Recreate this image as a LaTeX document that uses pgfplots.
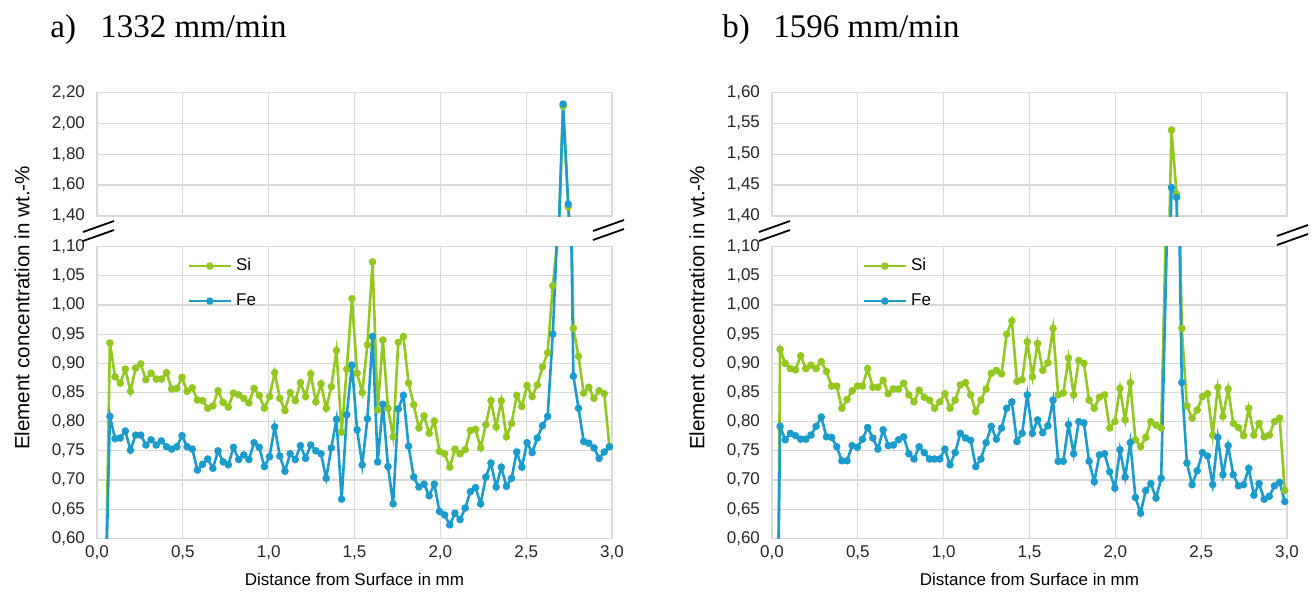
\documentclass[border=0pt]{standalone}
\usepackage{fontspec}
\setmainfont{Liberation Sans}
\newfontfamily\titlefont{Liberation Serif}
\usepackage{pgfplots}
\pgfplotsset{compat=1.18}
\usepackage{pgfplotstable}

\definecolor{siGreen}{RGB}{146,200,32}
\definecolor{feBlue}{RGB}{28,156,204}
\definecolor{gridGray}{RGB}{217,217,217}

% a) 1332 mm/min
\pgfplotstableread{
x     si    fe
0.050 0.500 0.500
0.075 0.935 0.809
0.105 0.877 0.771
0.135 0.866 0.772
0.165 0.890 0.784
0.195 0.852 0.751
0.225 0.892 0.777
0.255 0.899 0.777
0.285 0.872 0.760
0.315 0.883 0.769
0.345 0.873 0.760
0.375 0.873 0.767
0.405 0.884 0.757
0.435 0.856 0.753
0.465 0.857 0.757
0.495 0.876 0.776
0.525 0.852 0.757
0.555 0.858 0.753
0.585 0.837 0.717
0.615 0.836 0.727
0.645 0.823 0.736
0.675 0.827 0.720
0.705 0.853 0.750
0.735 0.833 0.731
0.765 0.825 0.726
0.795 0.849 0.756
0.825 0.846 0.735
0.855 0.840 0.743
0.885 0.832 0.735
0.915 0.857 0.764
0.945 0.845 0.756
0.975 0.823 0.723
1.005 0.843 0.740
1.035 0.884 0.791
1.065 0.840 0.741
1.095 0.819 0.715
1.125 0.850 0.745
1.155 0.836 0.735
1.185 0.867 0.759
1.215 0.843 0.737
1.245 0.882 0.760
1.275 0.834 0.750
1.305 0.865 0.745
1.335 0.823 0.703
1.365 0.860 0.755
1.395 0.922 0.804
1.425 0.782 0.667
1.455 0.890 0.812
1.485 1.011 0.897
1.515 0.883 0.786
1.545 0.850 0.726
1.575 0.932 0.805
1.605 1.074 0.946
1.635 0.820 0.731
1.665 0.940 0.830
1.695 0.823 0.723
1.725 0.774 0.659
1.755 0.936 0.822
1.785 0.946 0.845
1.815 0.866 0.758
1.845 0.829 0.705
1.875 0.789 0.688
1.905 0.810 0.693
1.935 0.780 0.673
1.965 0.801 0.693
1.995 0.749 0.646
2.025 0.745 0.640
2.055 0.722 0.623
2.085 0.753 0.643
2.115 0.745 0.632
2.145 0.752 0.652
2.175 0.785 0.680
2.205 0.787 0.687
2.235 0.755 0.659
2.265 0.795 0.705
2.295 0.836 0.729
2.325 0.791 0.688
2.355 0.836 0.722
2.385 0.774 0.689
2.415 0.797 0.703
2.445 0.845 0.748
2.475 0.826 0.722
2.505 0.862 0.764
2.535 0.843 0.747
2.565 0.863 0.772
2.595 0.894 0.793
2.625 0.918 0.809
2.655 1.033 0.950
2.685 1.120 1.150
2.715 2.110 2.124
2.745 1.460 1.476
2.775 0.960 0.878
2.805 0.912 0.823
2.835 0.849 0.766
2.865 0.859 0.763
2.895 0.840 0.755
2.925 0.853 0.737
2.955 0.848 0.748
2.985 0.757 0.757
}\dataA

% b) 1596 mm/min
\pgfplotstableread{
x     si    fe
0.035 0.500 0.500
0.047 0.924 0.792
0.077 0.900 0.769
0.107 0.891 0.780
0.137 0.889 0.776
0.167 0.913 0.770
0.197 0.891 0.770
0.227 0.897 0.777
0.257 0.891 0.792
0.287 0.903 0.808
0.317 0.886 0.774
0.347 0.861 0.773
0.377 0.861 0.757
0.407 0.823 0.733
0.437 0.838 0.733
0.467 0.853 0.759
0.497 0.861 0.756
0.527 0.861 0.770
0.557 0.891 0.790
0.587 0.859 0.772
0.617 0.859 0.753
0.647 0.871 0.786
0.677 0.848 0.759
0.707 0.856 0.760
0.737 0.856 0.769
0.767 0.866 0.774
0.797 0.846 0.745
0.827 0.834 0.736
0.857 0.854 0.757
0.887 0.842 0.747
0.917 0.837 0.736
0.947 0.823 0.736
0.977 0.834 0.736
1.007 0.848 0.753
1.037 0.823 0.726
1.067 0.837 0.747
1.097 0.863 0.780
1.127 0.867 0.772
1.157 0.846 0.768
1.187 0.817 0.723
1.217 0.837 0.736
1.247 0.856 0.764
1.277 0.883 0.792
1.307 0.888 0.770
1.337 0.882 0.789
1.367 0.950 0.823
1.397 0.973 0.834
1.427 0.869 0.766
1.457 0.872 0.780
1.487 0.937 0.846
1.517 0.877 0.780
1.547 0.934 0.803
1.577 0.888 0.781
1.607 0.901 0.793
1.637 0.960 0.837
1.667 0.846 0.732
1.697 0.849 0.732
1.727 0.909 0.795
1.757 0.846 0.745
1.787 0.905 0.800
1.817 0.900 0.798
1.847 0.837 0.732
1.877 0.823 0.697
1.907 0.842 0.743
1.937 0.846 0.745
1.967 0.789 0.714
1.997 0.800 0.686
2.027 0.857 0.752
2.057 0.803 0.705
2.087 0.867 0.764
2.117 0.769 0.670
2.147 0.757 0.643
2.177 0.773 0.682
2.207 0.800 0.694
2.237 0.794 0.669
2.267 0.789 0.703
2.327 1.539 1.446
2.357 1.435 1.430
2.387 0.960 0.867
2.417 0.827 0.729
2.447 0.806 0.692
2.477 0.820 0.716
2.507 0.843 0.747
2.537 0.848 0.741
2.567 0.777 0.692
2.597 0.859 0.773
2.627 0.809 0.709
2.657 0.856 0.759
2.687 0.797 0.709
2.717 0.790 0.690
2.747 0.776 0.692
2.777 0.823 0.720
2.807 0.777 0.674
2.837 0.797 0.694
2.867 0.774 0.667
2.897 0.777 0.672
2.927 0.800 0.690
2.957 0.806 0.696
2.987 0.682 0.663
}\dataB

\pgfplotsset{
  panel/.style={
    scale only axis, width=257.5pt,
    xmin=0, xmax=3, xtick={0,0.5,1,1.5,2,2.5,3},
    grid=major, major grid style={gridGray, line width=0.6pt},
    axis line style={gridGray, line width=0.6pt},
    major tick length=0pt,
    tick label style={font=\fontsize{8.5}{10}\selectfont, text=black!85},
    /pgf/number format/assume math mode=true,
    yticklabel style={xshift=-2.5pt, /pgf/number format/.cd, fixed, fixed zerofill, precision=2, use comma},
    xticklabel style={/pgf/number format/.cd, fixed, fixed zerofill, precision=1, use comma},
  },
  upper/.style={panel, height=61.85pt, xticklabels={}},
  lower/.style={panel, height=145.8pt, ymin=0.6, ymax=1.1,
    ytick={0.6,0.65,0.7,0.75,0.8,0.85,0.9,0.95,1.0,1.05,1.1},
    xlabel={Distance from Surface in mm},
    xlabel style={font=\fontsize{8.5}{10}\selectfont},
    legend style={draw=none, fill=none, at={(0.175,0.975)}, anchor=north west,
      font=\fontsize{8.5}{10}\selectfont, row sep=6pt, inner sep=0pt},
    legend cell align=left,
    legend image code/.code={\draw[#1, mark repeat=2, mark phase=2]
      plot coordinates {(0pt,0pt) (10.5pt,0pt) (21pt,0pt)};},
  },
  si/.style={siGreen, line width=1.3pt, mark=*, mark size=1.2pt},
  fe/.style={feBlue, line width=1.3pt, mark=*, mark size=1.2pt},
}

\begin{document}
\begin{tikzpicture}
\path[use as bounding box, fill=white] (0,0) rectangle (655.5pt,-298pt);

% panel a
\begin{axis}[upper, at={(97*0.5pt,-92.3*0.5pt)}, anchor=north west,
  ymin=1.4, ymax=2.2, ytick={1.4,1.6,1.8,2.0,2.2}]
  \addplot[si] table[x=x, y=si] {\dataA};
  \addplot[fe] table[x=x, y=fe] {\dataA};
\end{axis}
\begin{axis}[lower, at={(97*0.5pt,-246.7*0.5pt)}, anchor=north west]
  \addplot[si] table[x=x, y=si] {\dataA};
  \addplot[fe] table[x=x, y=fe] {\dataA};
  \legend{Si, Fe}
\end{axis}

% panel b
\begin{axis}[upper, at={(772*0.5pt,-92.3*0.5pt)}, anchor=north west,
  ymin=1.4, ymax=1.6, ytick={1.4,1.45,1.5,1.55,1.6}]
  \addplot[si] table[x=x, y=si] {\dataB};
  \addplot[fe] table[x=x, y=fe] {\dataB};
\end{axis}
\begin{axis}[lower, at={(772*0.5pt,-246.7*0.5pt)}, anchor=north west]
  \addplot[si] table[x=x, y=si] {\dataB};
  \addplot[fe] table[x=x, y=fe] {\dataB};
  \legend{Si, Fe}
\end{axis}

% titles
\begin{scope}[every node/.style={font=\titlefont\fontsize{16.5}{18}\selectfont, anchor=base west, inner sep=0pt}]
  \node at (50*0.5pt,-37*0.5pt) {a)};
  \node at (100*0.5pt,-37*0.5pt) {1332 mm/min};
  \node at (722*0.5pt,-37*0.5pt) {b)};
  \node at (773*0.5pt,-37*0.5pt) {1596 mm/min};
\end{scope}

% y labels
\node[rotate=90, font=\fontsize{10.3}{12}\selectfont] at (22*0.5pt,-308*0.5pt) {Element concentration in wt.-\%};
\node[rotate=90, font=\fontsize{10.3}{12}\selectfont] at (697*0.5pt,-308*0.5pt) {Element concentration in wt.-\%};

% axis break marks
\begin{scope}[line width=0.9pt]
  \draw (83*0.5pt,-232*0.5pt) -- (114*0.5pt,-221*0.5pt);
  \draw (83*0.5pt,-241*0.5pt) -- (114*0.5pt,-230*0.5pt);
  \draw (593*0.5pt,-231*0.5pt) -- (624*0.5pt,-220*0.5pt);
  \draw (593*0.5pt,-240*0.5pt) -- (624*0.5pt,-229*0.5pt);
  \draw (759*0.5pt,-232*0.5pt) -- (790*0.5pt,-221*0.5pt);
  \draw (759*0.5pt,-241*0.5pt) -- (790*0.5pt,-230*0.5pt);
  \draw (1277*0.5pt,-236*0.5pt) -- (1308*0.5pt,-225*0.5pt);
  \draw (1277*0.5pt,-245*0.5pt) -- (1308*0.5pt,-234*0.5pt);
\end{scope}
\end{tikzpicture}
\end{document}
